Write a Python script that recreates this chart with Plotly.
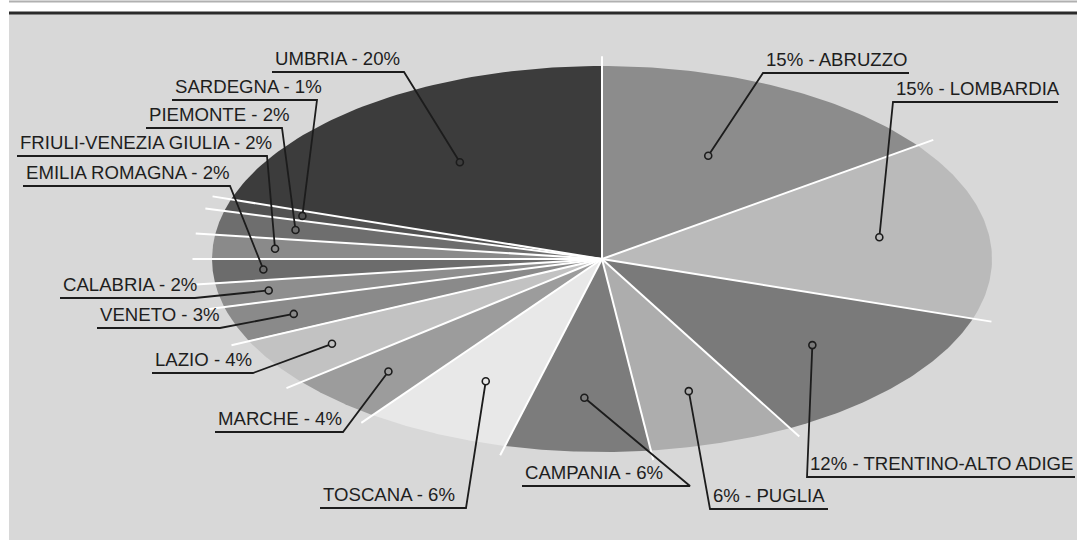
import numpy as np
import plotly.graph_objects as go

# slices, clockwise from 12 o'clock
regioni = ["ABRUZZO", "LOMBARDIA", "TRENTINO-ALTO ADIGE", "PUGLIA", "CAMPANIA",
           "TOSCANA", "MARCHE", "LAZIO", "VENETO", "CALABRIA", "EMILIA ROMAGNA",
           "FRIULI-VENEZIA GIULIA", "PIEMONTE", "SARDEGNA", "UMBRIA"]
percentuali = [15, 15, 12, 6, 6, 6, 4, 4, 3, 2, 2, 2, 2, 1, 20]
grigi = ["#8c8c8c", "#bababa", "#7a7a7a", "#adadad", "#7c7c7c",
         "#e8e8e8", "#9c9c9c", "#c2c2c2", "#8a8a8a", "#8e8e8e", "#6c6c6c",
         "#8a8a8a", "#6e6e6e", "#525252", "#3c3c3c"]

# label layout (pixels): underline start/end, underline height, side the leader hooks on
lab_x0 = [763, 893, 807, 710, 522, 320, 215, 152, 97, 60, 23, 17, 146, 172, 272]
lab_x1 = [909, 1058, 1075, 828, 690, 466, 343, 253, 220, 195, 230, 267, 282, 317, 404]
lab_y = [73, 102, 477, 509, 486, 508, 432, 373, 328, 298, 186, 156, 128, 100, 72]
pct_prima = [True, True, True, True, False, False, False, False, False, False,
             False, False, False, False, False]
aggancio = ["sx", "sx", "sx", "sx", "dx", "dx", "dx", "dx", "dx", "dx", "dx",
            "dx", "dx", "dx", "dx"]
pallino_r = [0.6, 0.72, 0.7, 0.72, 0.72, 0.7, 0.8, 0.82, 0.84, 0.87, 0.87,
             0.84, 0.8, 0.8, 0.62]

cx, cy, rx, ry = 602, 259, 390, 193


def punto(t, r=1.0):
    # t in degrees, clockwise from top
    a = np.radians(t)
    return cx + rx * r * np.sin(a), cy - ry * r * np.cos(a)


fig = go.Figure()

tot = sum(percentuali)
bordi = np.concatenate([[0], np.cumsum(percentuali)]) / tot * 360

for i, nome in enumerate(regioni):
    tt = np.linspace(bordi[i], bordi[i + 1], 60)
    ex, ey = punto(tt)
    fig.add_trace(go.Scatter(
        x=np.concatenate([[cx], ex, [cx]]), y=np.concatenate([[cy], ey, [cy]]),
        mode="lines", fill="toself", fillcolor=grigi[i],
        line=dict(width=0), hoverinfo="skip"))

# white separators, running a bit past the rim
for b in bordi[:-1]:
    ex, ey = punto(b, 1.05)
    fig.add_trace(go.Scatter(x=[cx, ex], y=[cy, ey], mode="lines",
                             line=dict(color="white", width=2), hoverinfo="skip"))

annotations = []
for i, nome in enumerate(regioni):
    mid = (bordi[i] + bordi[i + 1]) / 2
    px_, py_ = punto(mid, pallino_r[i])
    gx = lab_x0[i] if aggancio[i] == "sx" else lab_x1[i]
    fig.add_trace(go.Scatter(
        x=[px_, gx, lab_x1[i] if aggancio[i] == "sx" else lab_x0[i]],
        y=[py_, lab_y[i], lab_y[i]], mode="lines",
        line=dict(color="#1c1c1c", width=1.8), hoverinfo="skip"))
    fig.add_trace(go.Scatter(
        x=[px_], y=[py_], mode="markers",
        marker=dict(symbol="circle", size=7, color=grigi[i],
                    line=dict(color="#1c1c1c", width=1.6)),
        hoverinfo="skip"))
    pct = f"{percentuali[i]}%"
    testo = f"{pct} - {nome}" if pct_prima[i] else f"{nome} - {pct}"
    annotations.append(dict(
        x=lab_x0[i] + 1, y=lab_y[i] - 1, text=testo, showarrow=False,
        xanchor="left", yanchor="bottom", xref="x", yref="y",
        font=dict(family="Liberation Sans, Arial, sans-serif", size=18.6, color="#1e1e1e")))

fig.update_layout(
    width=1077, height=540,
    margin=dict(l=0, r=0, t=0, b=0),
    paper_bgcolor="white", plot_bgcolor="white",
    showlegend=False,
    xaxis=dict(range=[0, 1077], visible=False, fixedrange=True),
    yaxis=dict(range=[540, 0], visible=False, fixedrange=True),
    annotations=annotations,
    shapes=[
        dict(type="rect", xref="x", yref="y", x0=9, x1=1077, y0=14, y1=540,
             fillcolor="#d8d8d8", line=dict(width=0), layer="below"),
        dict(type="line", xref="x", yref="y", x0=9, x1=1077, y0=13, y1=13,
             line=dict(color="#2a2a2a", width=3)),
        dict(type="line", xref="x", yref="y", x0=9, x1=1077, y0=1.5, y1=1.5,
             line=dict(color="#b0b0b0", width=2)),
    ],
)

fig.write_html("out.html", config={"displayModeBar": False},
               post_script="document.body.style.margin='0';")
